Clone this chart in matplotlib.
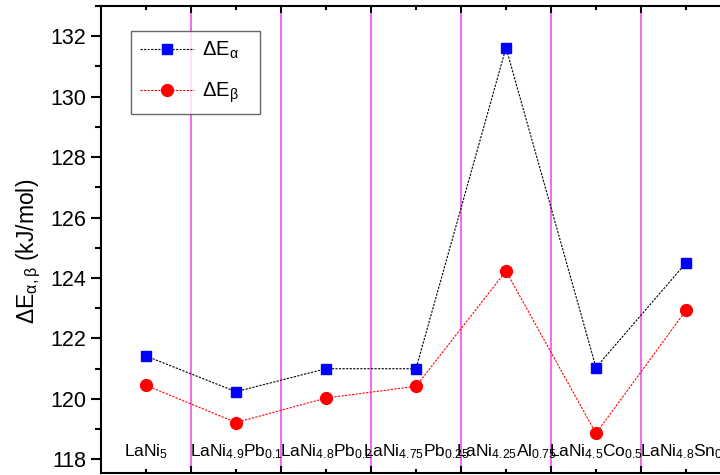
import numpy as np
import matplotlib.pyplot as plt
from matplotlib.ticker import MultipleLocator, FixedLocator

plt.rcParams['font.family'] = ['Liberation Sans', 'DejaVu Sans']
plt.rcParams['mathtext.fontset'] = 'custom'
plt.rcParams['mathtext.rm'] = 'Liberation Sans'
plt.rcParams['mathtext.it'] = 'Liberation Sans:italic'

# compounds, shown as text labels inside the plot
compounds = [r"LaNi$_\mathregular{5}$",
             r"LaNi$_\mathregular{4.9}$Pb$_\mathregular{0.1}$",
             r"LaNi$_\mathregular{4.8}$Pb$_\mathregular{0.2}$",
             r"LaNi$_\mathregular{4.75}$Pb$_\mathregular{0.25}$",
             r"LaNi$_\mathregular{4.25}$Al$_\mathregular{0.75}$",
             r"LaNi$_\mathregular{4.5}$Co$_\mathregular{0.5}$",
             r"LaNi$_\mathregular{4.8}$Sn$_\mathregular{0.2}$"]
dE_alpha = [121.42, 120.24, 121.0, 121.0, 131.62, 121.04, 124.5]
dE_beta = [120.45, 119.22, 120.03, 120.42, 124.23, 118.86, 122.93]

x = np.arange(len(compounds))

fig = plt.figure(figsize=(7.2, 4.75), dpi=100)
ax = fig.add_axes([101/720, 2/475, 630/720, 467/475])

# separators between compounds
for xs in x[:-1] + 0.5:
    ax.axvline(xs, color='#f050f0', lw=1.2, zorder=1)

ax.plot(x, dE_alpha, color='black', ls=(0, (2, 1.2)), lw=0.8,
        marker='s', ms=7.5, mfc='blue', mec='blue', label=r"ΔE$_\mathregular{α}$   ", zorder=3)
ax.plot(x, dE_beta, color='red', ls=(0, (2, 1.2)), lw=0.8,
        marker='o', ms=8.5, mfc='red', mec='red', label=r"ΔE$_\mathregular{β}$   ", zorder=3)

for xi, name in zip(x, compounds):
    ax.text(xi, 118.1, name, ha='center', va='baseline', fontsize=12.5)

ax.set_xlim(-0.5, 6.5)
ax.set_ylim(117.55, 133.0)
ax.xaxis.set_major_locator(FixedLocator(x[:-1] + 0.5))
ax.xaxis.set_minor_locator(FixedLocator(x))
ax.set_xticklabels([])
ax.yaxis.set_major_locator(MultipleLocator(2))
ax.yaxis.set_minor_locator(MultipleLocator(1))

ax.tick_params(axis='x', which='both', direction='in', top=True, bottom=True, width=1.5)
ax.tick_params(axis='x', which='major', length=5)
ax.tick_params(axis='x', which='minor', length=3)
ax.tick_params(axis='y', which='both', direction='out', width=1.5, labelsize=15.5)
ax.tick_params(axis='y', which='major', length=7)
ax.tick_params(axis='y', which='minor', length=4)
for s in ax.spines.values():
    s.set_linewidth(1.5)

ax.set_ylabel(r"ΔE$_\mathregular{α,β}$ (kJ/mol)", fontsize=16.5)
ax.yaxis.set_label_coords(-0.092, 0.475)

leg = ax.legend(loc='upper left', bbox_to_anchor=(0.0476, 0.9465), fontsize=14.5,
                frameon=True, fancybox=False, edgecolor='#444444', borderaxespad=0,
                handlelength=2.7, labelspacing=0.95, borderpad=0.45, handletextpad=0.4)
leg.get_frame().set_linewidth(1.0)

fig.savefig("out.png", dpi=100)
